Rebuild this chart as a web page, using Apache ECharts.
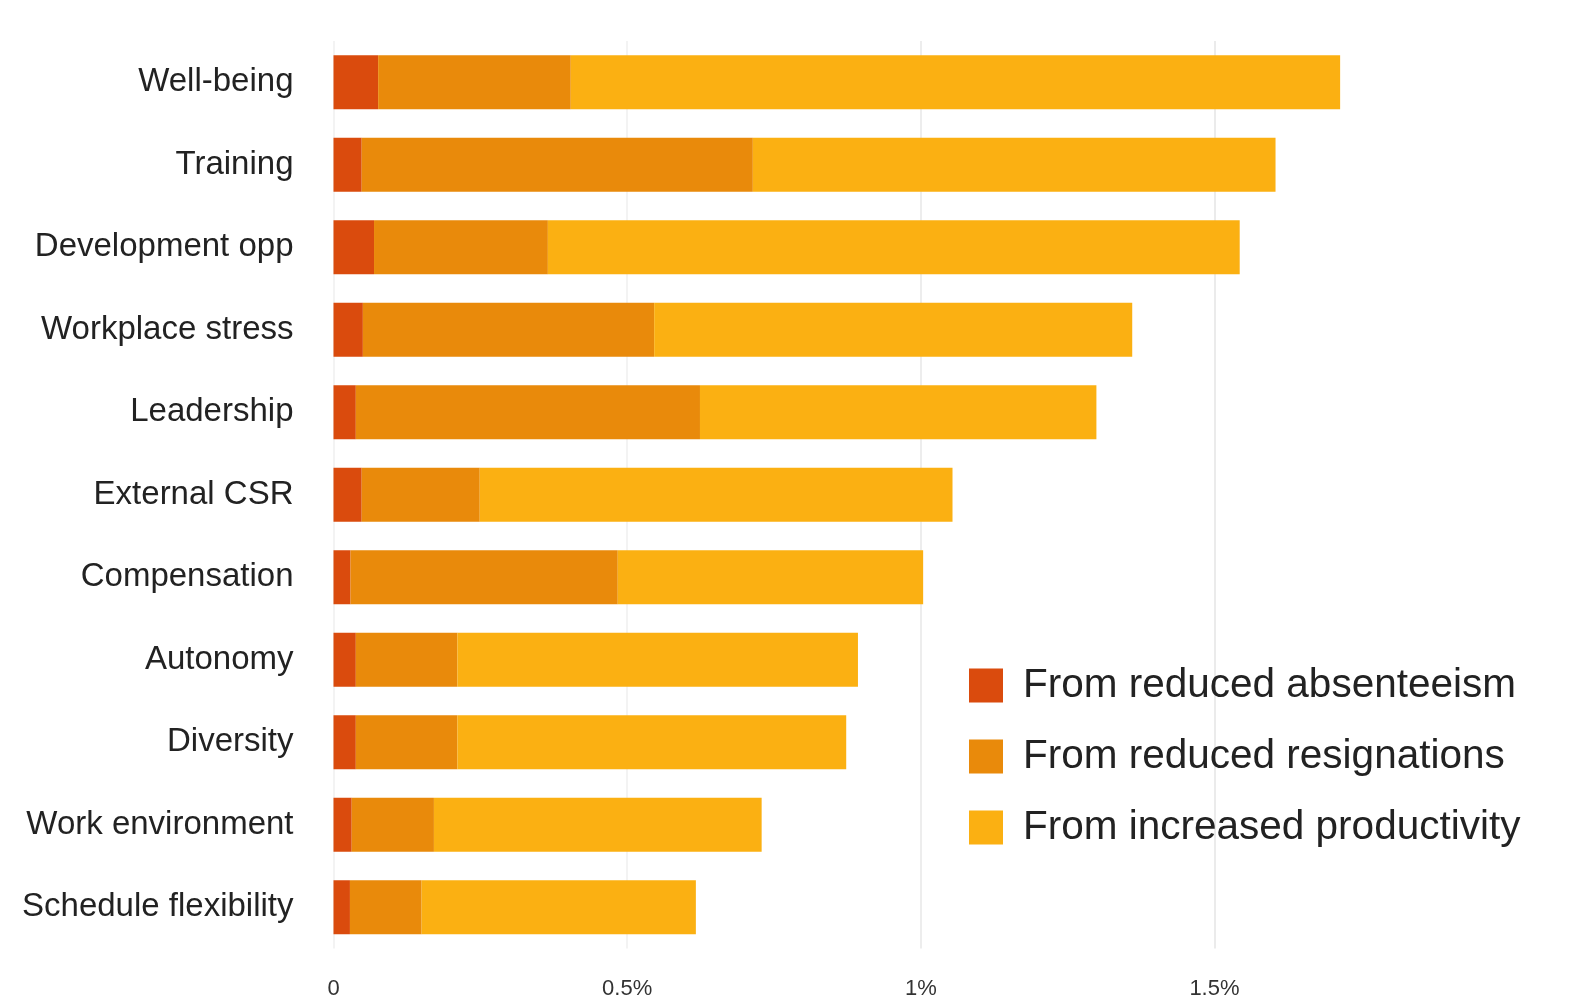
<!DOCTYPE html>
<html><head><meta charset="utf-8">
<script src="https://cdn.jsdelivr.net/npm/echarts@6/dist/echarts.min.js"></script>
<style>html,body{margin:0;padding:0;background:#fff}#c{width:1591px;height:1001px}</style>
</head><body><div id="c"></div>
<script>
var categories = ["Well-being","Training","Development opp","Workplace stress","Leadership","External CSR","Compensation","Autonomy","Diversity","Work environment","Schedule flexibility"];
var absenteeism = [0.076,0.048,0.069,0.050,0.038,0.048,0.029,0.038,0.038,0.031,0.028];
var resignations = [0.328,0.666,0.296,0.496,0.586,0.201,0.455,0.173,0.173,0.140,0.122];
var productivity = [1.310,0.890,1.178,0.814,0.675,0.805,0.520,0.682,0.662,0.558,0.467];
var seriesNames = ["From reduced absenteeism","From reduced resignations","From increased productivity"];
var tickLabels = {"0":"0","0.5":"0.5%","1":"1%","1.5":"1.5%"};

var colors = ["#DA4B0D","#E98A0B","#FBB012"];
var chart = echarts.init(document.getElementById('c'), null, {renderer:'canvas'});
function mk(name, data, i){
  return {name:name, type:'bar', stack:'t', data:data, barWidth:54,
    itemStyle:{color:colors[i]}, emphasis:{disabled:true}};
}
chart.setOption({
  animation:false,
  backgroundColor:'#fff',
  grid:{left:333.5, top:41, width:1174.6, height:907.5, containLabel:false},
  xAxis:{type:'value', min:0, max:2, interval:0.5,
    axisLine:{show:false}, axisTick:{show:false},
    splitLine:{show:true, lineStyle:{color:['#f3f3f3','#f3f3f3','#ededed','#ebebeb','rgba(0,0,0,0)'], width:2}},
    axisLabel:{margin:29, fontFamily:'"Liberation Sans Narrow","Arial Narrow","Liberation Sans",sans-serif', fontSize:22, color:'#333',
      formatter:function(v){ var k=String(v); return tickLabels.hasOwnProperty(k)?tickLabels[k]:''; }}
  },
  yAxis:{type:'category', data:categories, inverse:true,
    axisLine:{show:false}, axisTick:{show:false}, splitLine:{show:false},
    axisLabel:{margin:40, fontFamily:'"Liberation Sans",Arial,sans-serif', fontSize:33, color:'#222', padding:[6,0,0,0]}
  },
  legend:{orient:'vertical', left:964, top:660, itemWidth:34, itemHeight:34, itemGap:30,
    icon:'rect', textStyle:{fontFamily:'"Liberation Sans",Arial,sans-serif', fontSize:40.5, lineHeight:41, color:'#222', padding:[0,0,0,15]},
    data:seriesNames, selectedMode:false},
  series:[mk(seriesNames[0],absenteeism,0), mk(seriesNames[1],resignations,1), mk(seriesNames[2],productivity,2)]
});
</script></body></html>
